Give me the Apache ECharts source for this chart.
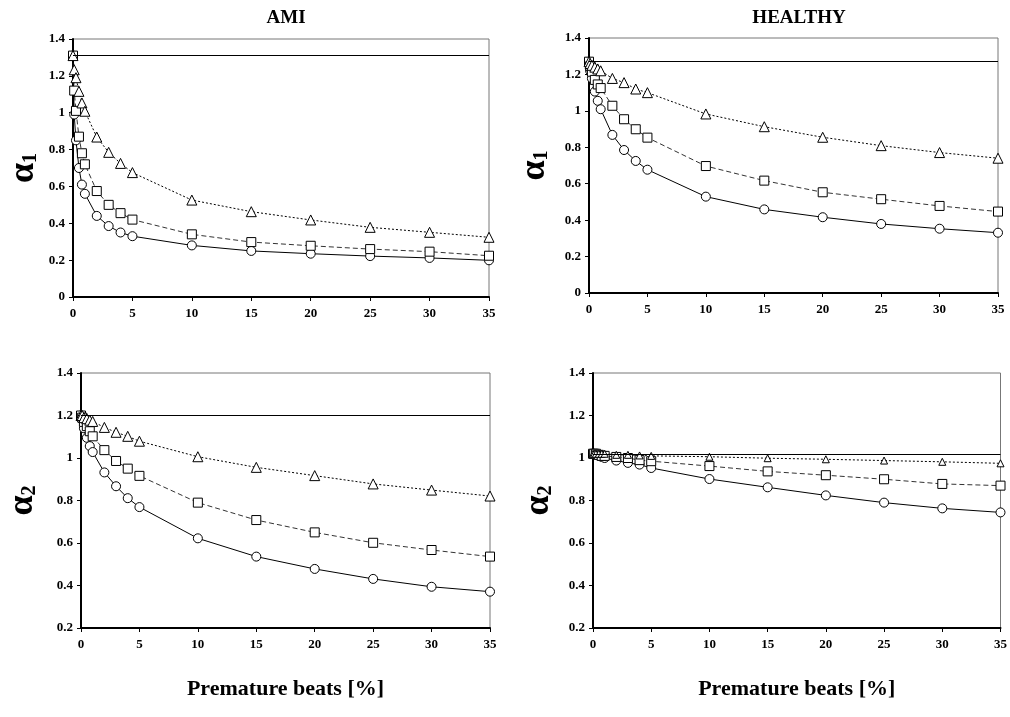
<!DOCTYPE html>
<html>
<head>
<meta charset="utf-8">
<script src="https://cdn.jsdelivr.net/npm/echarts@6/dist/echarts.min.js"></script>
<style>
    html, body { margin: 0; padding: 0; background: #fff; }
    #chart { width: 1010px; height: 717px; }
</style>
</head>
<body>
<div id="chart"></div>
<script>
var beats = [0, 0.1, 0.25, 0.5, 0.75, 1, 2, 3, 4, 5, 10, 15, 20, 25, 30, 35];

// AMI, alpha1
var amiA1Circle = [1.31, 0.99, 0.85, 0.70, 0.61, 0.56, 0.44, 0.385, 0.35, 0.33, 0.28, 0.25, 0.235, 0.222, 0.212, 0.199];
var amiA1Square = [1.31, 1.12, 1.01, 0.87, 0.78, 0.72, 0.575, 0.50, 0.455, 0.42, 0.34, 0.298, 0.278, 0.26, 0.246, 0.224];
var amiA1Triangle = [1.31, 1.233, 1.19, 1.116, 1.053, 1.008, 0.868, 0.785, 0.725, 0.675, 0.526, 0.463, 0.418, 0.378, 0.351, 0.324];

// HEALTHY, alpha1
var hltA1Circle = [1.27, 1.22, 1.178, 1.106, 1.055, 1.009, 0.868, 0.785, 0.725, 0.677, 0.529, 0.459, 0.416, 0.379, 0.353, 0.331];
var hltA1Square = [1.27, 1.245, 1.215, 1.17, 1.145, 1.125, 1.028, 0.954, 0.899, 0.853, 0.697, 0.617, 0.553, 0.515, 0.478, 0.447];
var hltA1Triangle = [1.27, 1.26, 1.25, 1.24, 1.23, 1.22, 1.178, 1.155, 1.12, 1.10, 0.983, 0.913, 0.855, 0.809, 0.771, 0.740];

// AMI, alpha2
var amiA2Circle = [1.2, 1.18, 1.14, 1.095, 1.056, 1.028, 0.932, 0.867, 0.811, 0.769, 0.622, 0.536, 0.478, 0.431, 0.394, 0.371];
var amiA2Square = [1.2, 1.19, 1.17, 1.15, 1.126, 1.102, 1.037, 0.986, 0.95, 0.916, 0.79, 0.708, 0.65, 0.601, 0.567, 0.536];
var amiA2Triangle = [1.2, 1.2, 1.19, 1.185, 1.178, 1.172, 1.144, 1.121, 1.102, 1.079, 1.006, 0.956, 0.917, 0.878, 0.849, 0.821];

// HEALTHY, alpha2
var hltA2Circle = [1.02, 1.02, 1.015, 1.01, 1.005, 1.0, 0.988, 0.977, 0.969, 0.953, 0.901, 0.862, 0.824, 0.79, 0.763, 0.744];
var hltA2Square = [1.02, 1.02, 1.02, 1.015, 1.01, 1.01, 1.005, 1.0, 0.99, 0.985, 0.962, 0.937, 0.919, 0.9, 0.878, 0.87];
var hltA2Triangle = [1.02, 1.02, 1.02, 1.02, 1.02, 1.02, 1.015, 1.015, 1.012, 1.01, 1.006, 0.999, 0.994, 0.988, 0.982, 0.975];

// uncorrected value of each panel (horizontal line)
var baseline = [1.31, 1.27, 1.2, 1.02];

var panelTitles = ['AMI', 'HEALTHY'];
var xTitle = 'Premature beats [%]';

var serif = '"Liberation Serif", "DejaVu Serif", serif';

function pairs(values) {
    var out = [];
    for (var i = 0; i < beats.length; i++) {
        out.push([beats[i], values[i]]);
    }
    return out;
}

function makeSeries(idx, values, kind, size) {
    var styles = {
        circle: {symbol: 'circle', line: {color: '#000', width: 1, type: 'solid'}},
        square: {symbol: 'rect', line: {color: '#333', width: 1, type: [5, 3]}},
        triangle: {symbol: 'triangle', line: {color: '#000', width: 1, type: [2, 2]}}
    };
    var s = {
        type: 'line',
        xAxisIndex: idx,
        yAxisIndex: idx,
        data: pairs(values),
        symbol: styles[kind].symbol,
        symbolSize: size,
        clip: false,
        silent: true,
        lineStyle: styles[kind].line,
        itemStyle: {color: '#fff', borderColor: '#000', borderWidth: 1}
    };
    if (kind === 'circle') {
        s.markLine = {
            silent: true,
            symbol: 'none',
            label: {show: false},
            lineStyle: {color: '#000', type: 'solid', width: 1},
            data: [{yAxis: baseline[idx]}]
        };
    }
    return s;
}

function xAxis(idx, withName) {
    return {
        type: 'value',
        gridIndex: idx,
        min: 0,
        max: 35,
        interval: 5,
        name: withName ? xTitle : '',
        nameLocation: 'middle',
        nameGap: 50,
        nameTextStyle: {fontFamily: serif, fontWeight: 'bold', fontSize: 22, color: '#000'},
        axisLine: {lineStyle: {color: '#000', width: 2}},
        axisTick: {length: 4, lineStyle: {color: '#000', width: 1}},
        axisLabel: {fontFamily: serif, fontWeight: 'bold', fontSize: 13, color: '#000', margin: 10},
        splitLine: {show: false}
    };
}

function yAxis(idx, min, sub, gap) {
    return {
        type: 'value',
        gridIndex: idx,
        min: min,
        max: 1.4,
        interval: 0.2,
        name: '{a|α}{b|' + sub + '}',
        nameLocation: 'middle',
        nameRotate: 90,
        nameGap: gap,
        nameTextStyle: {
            rich: {
                a: {fontFamily: serif, fontWeight: 'bold', fontSize: 36, color: '#000'},
                b: {fontFamily: serif, fontWeight: 'bold', fontSize: 20, color: '#000', padding: [14, 0, 0, 0]}
            }
        },
        axisLine: {lineStyle: {color: '#000', width: 2}},
        axisTick: {length: 4, lineStyle: {color: '#000', width: 1}},
        axisLabel: {
            fontFamily: serif, fontWeight: 'bold', fontSize: 13, color: '#000', margin: 8,
            formatter: function (v) { return String(Math.round(v * 10) / 10); }
        },
        splitLine: {show: false}
    };
}

var gridBox = {show: true, borderColor: '#777', borderWidth: 1, backgroundColor: 'transparent'};

function $ext(pos) {
    var g = {};
    for (var k in gridBox) { g[k] = gridBox[k]; }
    for (var p in pos) { g[p] = pos[p]; }
    return g;
}

var chart = echarts.init(document.getElementById('chart'));
chart.setOption({
    animation: false,
    backgroundColor: '#fff',
    title: [
        {text: panelTitles[0], left: 281, top: 4, textAlign: 'center',
            textStyle: {fontFamily: serif, fontWeight: 'bold', fontSize: 19, color: '#000'}},
        {text: panelTitles[1], left: 794, top: 4, textAlign: 'center',
            textStyle: {fontFamily: serif, fontWeight: 'bold', fontSize: 19, color: '#000'}}
    ],
    grid: [
        $ext({left: 73, right: 521, top: 39, bottom: 420}),
        $ext({left: 589, right: 12, top: 38, bottom: 424}),
        $ext({left: 81, right: 520, top: 373, bottom: 89}),
        $ext({left: 593, right: 9, top: 373, bottom: 89})
    ],
    xAxis: [xAxis(0, false), xAxis(1, false), xAxis(2, true), xAxis(3, true)],
    yAxis: [yAxis(0, 0, 1, 31), yAxis(1, 0, 1, 36), yAxis(2, 0.2, 2, 40), yAxis(3, 0.2, 2, 36)],
    series: [
        makeSeries(0, amiA1Circle, 'circle', 9),
        makeSeries(0, amiA1Square, 'square', 9),
        makeSeries(0, amiA1Triangle, 'triangle', 10),
        makeSeries(1, hltA1Circle, 'circle', 9),
        makeSeries(1, hltA1Square, 'square', 9),
        makeSeries(1, hltA1Triangle, 'triangle', 10),
        makeSeries(2, amiA2Circle, 'circle', 9),
        makeSeries(2, amiA2Square, 'square', 9),
        makeSeries(2, amiA2Triangle, 'triangle', 10),
        makeSeries(3, hltA2Circle, 'circle', 9),
        makeSeries(3, hltA2Square, 'square', 9),
        makeSeries(3, hltA2Triangle, 'triangle', 7)
    ]
});
</script>
</body>
</html>
